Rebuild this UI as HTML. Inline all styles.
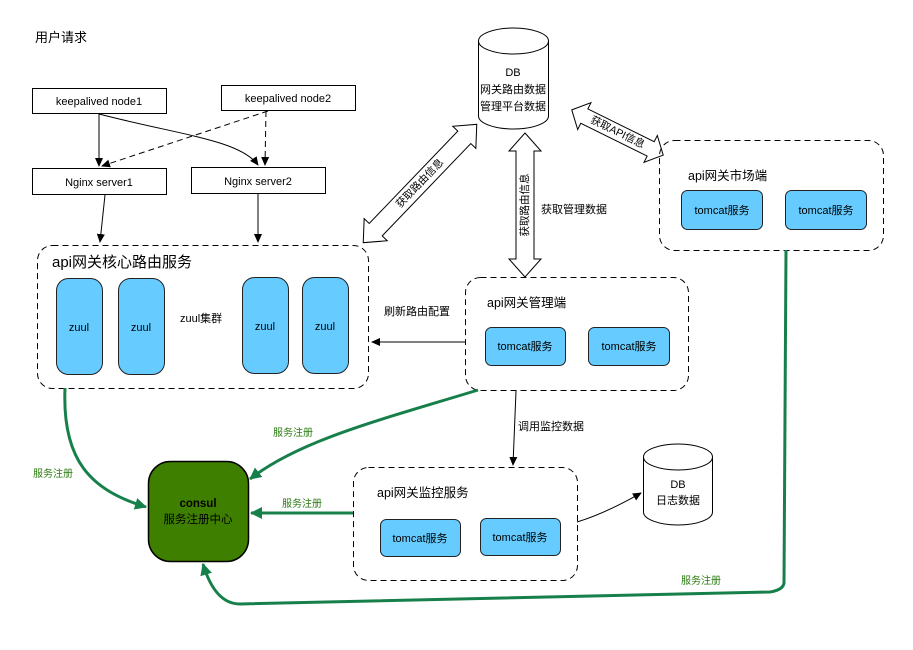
<!DOCTYPE html>
<html><head><meta charset="utf-8"><style>
html,body{margin:0;padding:0;background:#fff;}
svg{display:block;font-family:"Liberation Sans","Noto Sans CJK SC",sans-serif;}
</style></head><body>
<svg width="913" height="650" viewBox="0 0 913 650" xmlns="http://www.w3.org/2000/svg">
<defs>
<marker id="ab" markerWidth="10" markerHeight="10" refX="8" refY="5" orient="auto" markerUnits="userSpaceOnUse"><path d="M0,1 L9,5 L0,9 z" fill="#000"/></marker>
<marker id="ag" markerWidth="14" markerHeight="14" refX="11" refY="7" orient="auto" markerUnits="userSpaceOnUse"><path d="M0,1 L12,7 L0,13 z" fill="#17804a"/></marker>
</defs>
<text x="35" y="42" font-size="13" fill="#000">用户请求</text>

<g fill="#fff" stroke="#000" stroke-width="1">
<rect x="32.5" y="88.5" width="134" height="25"/>
<rect x="221.5" y="85.5" width="134" height="25"/>
<rect x="32.5" y="168.5" width="134" height="26"/>
<rect x="191.5" y="167.5" width="134" height="26"/>
</g>
<g font-size="11" text-anchor="middle" fill="#000">
<text x="99" y="105">keepalived node1</text>
<text x="288" y="102">keepalived node2</text>
<text x="99" y="186">Nginx server1</text>
<text x="258" y="185">Nginx server2</text>
</g>
<g fill="none" stroke="#000" stroke-width="1">
<path d="M99,114 L99,166" marker-end="url(#ab)"/>
<path d="M99,114 C180,135 240,140 258,165" marker-end="url(#ab)"/>
<path d="M268,111 L102,166" stroke-dasharray="6,4" marker-end="url(#ab)"/>
<path d="M266,111 L265,165" stroke-dasharray="6,4" marker-end="url(#ab)"/>
<path d="M105,195 L100,242" marker-end="url(#ab)"/>
<path d="M258,194 L258,242" marker-end="url(#ab)"/>
</g>

<rect x="37.5" y="245.5" width="331" height="143" rx="15" fill="none" stroke="#000" stroke-dasharray="6,4"/>
<text x="52" y="267" font-size="15">api网关核心路由服务</text>
<g fill="#66ccff" stroke="#222" stroke-width="1">
<rect x="56.5" y="278.5" width="46" height="96" rx="12"/>
<rect x="118.5" y="278.5" width="46" height="96" rx="12"/>
<rect x="242.5" y="277.5" width="46" height="96" rx="12"/>
<rect x="302.5" y="277.5" width="46" height="96" rx="12"/>
</g>
<g font-size="11" text-anchor="middle">
<text x="79" y="331">zuul</text>
<text x="141" y="331">zuul</text>
<text x="265" y="330">zuul</text>
<text x="325" y="330">zuul</text>
</g>
<text x="180" y="322" font-size="11">zuul集群</text>

<g fill="#fff" stroke="#000">
<path d="M478.5,41 L478.5,116 A35,13 0 0 0 548.5,116 L548.5,41"/>
<ellipse cx="513.5" cy="41" rx="35" ry="13"/>
</g>
<g font-size="11" text-anchor="middle">
<text x="513" y="76">DB</text>
<text x="513" y="93">网关路由数据</text>
<text x="513" y="110">管理平台数据</text>
</g>

<g fill="#fff" stroke="#000" stroke-width="1">
<polygon transform="translate(420,183.5) rotate(-46.2)" points="-82,0 -64,-16 -64,-9 64,-9 64,-16 82,0 64,16 64,9 -64,9 -64,16"/>
<polygon transform="translate(525,205) rotate(90)" points="-72,0 -54,-16 -54,-9 54,-9 54,-16 72,0 54,16 54,9 -54,9 -54,16"/>
<polygon transform="translate(617.5,132.5) rotate(26.3)" points="-51,0 -37,-15 -37,-8 37,-8 37,-15 51,0 37,15 37,8 -37,8 -37,15"/>
</g>
<g font-size="10.5" text-anchor="middle" dominant-baseline="central">
<text transform="translate(420,183.5) rotate(-46.2)">获取路由信息</text>
<text transform="translate(525,205) rotate(-90)">获取路由信息</text>
<text transform="translate(617.5,132.5) rotate(26.3)">获取API信息</text>
</g>
<text x="541" y="213" font-size="11">获取管理数据</text>

<rect x="659.5" y="140.5" width="224" height="110" rx="15" fill="none" stroke="#000" stroke-dasharray="6,4"/>
<text x="688" y="180" font-size="12.5">api网关市场端</text>
<g fill="#66ccff" stroke="#222">
<rect x="681.5" y="190.5" width="81" height="39" rx="6"/>
<rect x="785.5" y="190.5" width="81" height="39" rx="6"/>
<rect x="485.5" y="327.5" width="80" height="38" rx="6"/>
<rect x="588.5" y="327.5" width="81" height="38" rx="6"/>
<rect x="380.5" y="519.5" width="80" height="37" rx="6"/>
<rect x="480.5" y="518.5" width="80" height="37" rx="6"/>
</g>
<g font-size="11" text-anchor="middle">
<text x="722" y="214">tomcat服务</text>
<text x="826" y="214">tomcat服务</text>
<text x="525" y="350">tomcat服务</text>
<text x="629" y="350">tomcat服务</text>
<text x="420" y="542">tomcat服务</text>
<text x="520" y="541">tomcat服务</text>
</g>

<rect x="465.5" y="277.5" width="223" height="113" rx="15" fill="none" stroke="#000" stroke-dasharray="6,4"/>
<text x="487" y="307" font-size="12.5">api网关管理端</text>
<path d="M465,342 L372,342" stroke="#000" fill="none" marker-end="url(#ab)"/>
<text x="384" y="315" font-size="11">刷新路由配置</text>
<path d="M516,391 L513,465" stroke="#000" fill="none" marker-end="url(#ab)"/>
<text x="518" y="430" font-size="11">调用监控数据</text>

<rect x="353.5" y="467.5" width="224" height="113" rx="15" fill="none" stroke="#000" stroke-dasharray="6,4"/>
<text x="377" y="497" font-size="12.5">api网关监控服务</text>

<g fill="#fff" stroke="#000">
<path d="M643.5,457 L643.5,512 A34.5,13 0 0 0 712.5,512 L712.5,457"/>
<ellipse cx="678" cy="457" rx="34.5" ry="13"/>
</g>
<g font-size="11" text-anchor="middle">
<text x="678" y="488">DB</text>
<text x="678" y="504">日志数据</text>
</g>
<path d="M577,522 C600,515 620,505 641,493" stroke="#000" fill="none" marker-end="url(#ab)"/>

<rect x="148.5" y="461.5" width="100" height="100" rx="22" fill="#3f7f00" stroke="#000" stroke-width="1.5"/>
<text x="198" y="507" font-size="11.5" font-weight="bold" text-anchor="middle">consul</text>
<text x="198" y="523" font-size="11.5" text-anchor="middle">服务注册中心</text>

<g fill="none" stroke="#17804a" stroke-width="3">
<path d="M65,388 C62,460 90,490 146,507" marker-end="url(#ag)"/>
<path d="M478,390 C380,420 300,440 250,479" marker-end="url(#ag)"/>
<path d="M353,513 L251,513" marker-end="url(#ag)"/>
<path d="M786,250 L784,583 Q783,590 770,592 L240,604 Q215,604 203,564" marker-end="url(#ag)"/>
</g>
<g font-size="10" fill="#2a7a10">
<text x="33" y="477">服务注册</text>
<text x="273" y="436">服务注册</text>
<text x="282" y="507">服务注册</text>
<text x="681" y="584">服务注册</text>
</g>
</svg>
</body></html>
